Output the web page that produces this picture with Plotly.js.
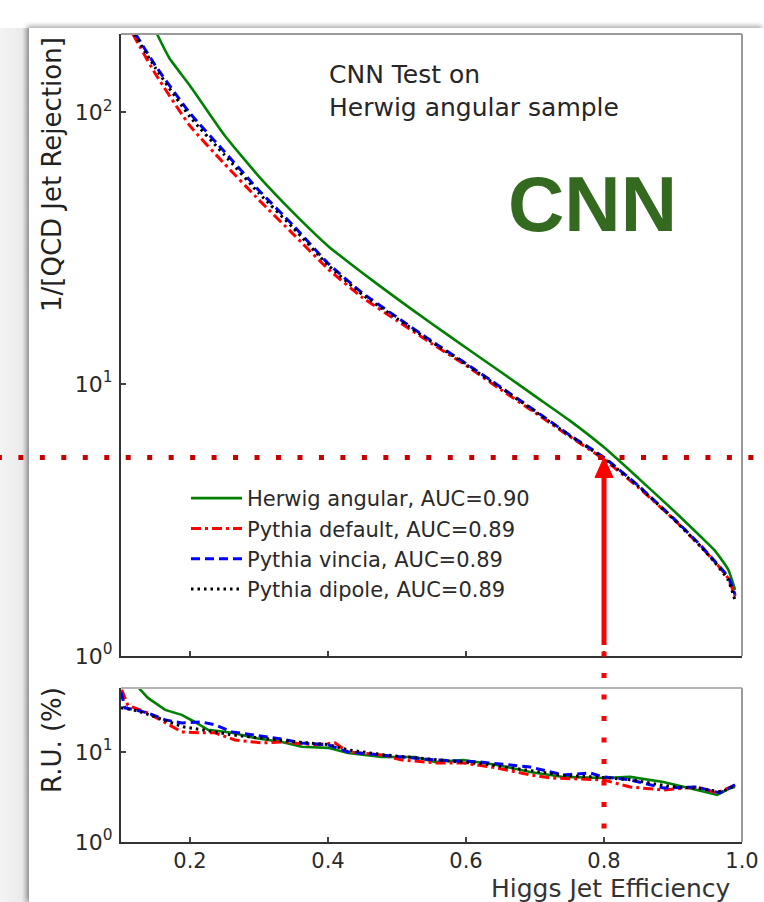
<!DOCTYPE html>
<html>
<head>
<meta charset="utf-8">
<script src="https://cdn.plot.ly/plotly-3.0.1.min.js"></script>
<style>
  html, body { margin: 0; padding: 0; background: #fff; width: 764px; height: 902px; overflow: hidden; }
  #strip { position: absolute; left: 0; top: 28px; width: 29px; height: 874px;
           background: linear-gradient(to right, #f3f3f3 0%, #ebebeb 75%, #c9c9c9 100%); }
  #card  { position: absolute; left: 29px; top: 28px; width: 735px; height: 874px; background: #fff;
           box-shadow: -2px -2px 5px rgba(0,0,0,0.35); }
  #chart { position: absolute; left: 0; top: 0; width: 764px; height: 902px; }
</style>
</head>
<body>
<div id="strip"></div>
<div id="card"></div>
<div id="chart"></div>
<script>
// ---------- ROC curves: 1/(QCD jet rejection) vs Higgs jet efficiency ----------
const effHerwig   = [0.152, 0.17, 0.2, 0.25, 0.3, 0.35, 0.4, 0.45, 0.5, 0.55, 0.6, 0.65, 0.7, 0.75, 0.8, 0.85, 0.9, 0.94, 0.96, 0.98, 0.99];
const rejHerwig   = [194, 158, 125, 82.2, 57.9, 42.6, 32.2, 25.6, 20.6, 16.7, 13.6, 11.1, 9.03, 7.35, 5.85, 4.50, 3.44, 2.75, 2.45, 2.08, 1.75];

const effDefault  = [0.117, 0.15, 0.2, 0.25, 0.3, 0.35, 0.4, 0.45, 0.5, 0.55, 0.6, 0.65, 0.7, 0.75, 0.8, 0.85, 0.9, 0.94, 0.96, 0.98, 0.99];
const rejDefault  = [194, 138, 89.0, 64.5, 47.5, 35.5, 26.5, 20.8, 17.1, 14.1, 11.7, 9.55, 7.85, 6.42, 5.28, 4.16, 3.20, 2.53, 2.23, 1.93, 1.66];

const effVincia   = [0.121, 0.15, 0.2, 0.25, 0.3, 0.35, 0.4, 0.45, 0.5, 0.55, 0.6, 0.65, 0.7, 0.75, 0.8, 0.85, 0.9, 0.94, 0.96, 0.98, 0.99];
const rejVincia   = [194, 148, 99.0, 71.5, 51.5, 38.2, 27.8, 21.6, 17.6, 14.4, 11.9, 9.75, 7.98, 6.50, 5.37, 4.22, 3.22, 2.55, 2.24, 1.95, 1.68];

const effDipole   = [0.119, 0.15, 0.2, 0.25, 0.3, 0.35, 0.4, 0.45, 0.5, 0.55, 0.6, 0.65, 0.7, 0.75, 0.8, 0.85, 0.9, 0.94, 0.96, 0.98, 0.99];
const rejDipole   = [194, 145, 96.0, 69.5, 50.3, 37.4, 27.4, 21.3, 17.4, 14.3, 11.8, 9.70, 7.93, 6.47, 5.33, 4.20, 3.20, 2.53, 2.22, 1.90, 1.60];

// ---------- relative uncertainty (%) ----------
const ruEffHerwig  = [0.125, 0.139, 0.164, 0.188, 0.207, 0.226, 0.261, 0.294, 0.333, 0.362, 0.4, 0.429, 0.478, 0.526, 0.555, 0.596, 0.645, 0.693, 0.741, 0.799, 0.838, 0.886, 0.935, 0.964, 0.983, 0.99];
const ruHerwig     = [52, 39.8, 29.3, 25.8, 21.5, 17.6, 16.3, 14.3, 12.9, 11.4, 11.1, 9.75, 8.8, 8.8, 7.74, 8.15, 7.17, 6.0, 5.28, 5.14, 5.28, 4.64, 3.78, 3.33, 3.98, 4.08];

const ruEffDefault = [0.101, 0.11, 0.139, 0.164, 0.188, 0.217, 0.236, 0.265, 0.304, 0.333, 0.381, 0.41, 0.429, 0.478, 0.507, 0.555, 0.596, 0.645, 0.693, 0.722, 0.799, 0.838, 0.886, 0.935, 0.964, 0.99];
const ruDefault    = [49, 33, 27.1, 21, 16.7, 16.3, 16.3, 13.6, 12.6, 12.9, 12.0, 12.6, 10.0, 9.26, 8.15, 7.55, 7.55, 6.64, 5.55, 5.14, 4.89, 4.08, 3.78, 4.08, 3.5, 4.3];

const ruEffVincia  = [0.1, 0.106, 0.12, 0.139, 0.164, 0.188, 0.217, 0.236, 0.261, 0.294, 0.333, 0.362, 0.4, 0.429, 0.478, 0.526, 0.555, 0.62, 0.693, 0.741, 0.78, 0.799, 0.838, 0.886, 0.935, 0.968, 0.99];
const ruVincia     = [46, 30.8, 29.3, 27.1, 22.7, 21.0, 21.5, 20.0, 16.7, 15.4, 13.9, 12.6, 12.0, 10.0, 9.26, 8.58, 8.15, 7.74, 6.81, 5.55, 5.84, 5.28, 4.89, 3.98, 4.08, 3.5, 4.3];

const ruEffDipole  = [0.1, 0.12, 0.14, 0.165, 0.19, 0.22, 0.26, 0.3, 0.35, 0.4, 0.43, 0.48, 0.53, 0.58, 0.63, 0.69, 0.74, 0.8, 0.84, 0.89, 0.94, 0.97, 0.99];
const ruDipole     = [31, 29, 26, 22, 19, 17.5, 15.5, 14.3, 13.0, 12.1, 10.5, 9.3, 8.5, 7.9, 7.3, 6.3, 5.5, 5.2, 4.9, 4.2, 3.9, 3.6, 4.2];

const seriesNames = [
  'Herwig angular, AUC=0.90',
  'Pythia default, AUC=0.89',
  'Pythia vincia, AUC=0.89',
  'Pythia dipole, AUC=0.89'
];
const xTickVals = [0.2, 0.4, 0.6, 0.8, 1.0];
const xTickText = ['0.2', '0.4', '0.6', '0.8', '1.0'];

// working point marked on the plot
const wpEff = 0.8;
const wpRej = rejVincia[effVincia.indexOf(wpEff)];

// ---------- page geometry ----------
const W = 764, H = 902;
const px = p => p / W;             // horizontal pixel -> paper
const py = p => 1 - p / H;         // vertical pixel -> paper
const xDom = [px(121), px(742)];
const xRange = [0.1, 1.0];
const mainDom = [py(656), py(34)];
const mainRange = [0, 2.287];
const ruDom = [py(842), py(688)];
const ruRange = [0, 1.71];

const xToPaper = x => xDom[0] + (x - xRange[0]) / (xRange[1] - xRange[0]) * (xDom[1] - xDom[0]);
const yMainToPaper = v => mainDom[0] + (Math.log10(v) - mainRange[0]) / (mainRange[1] - mainRange[0]) * (mainDom[1] - mainDom[0]);

const styles = [
  {color: '#008000', width: 2.6, dash: 'solid'},
  {color: '#ff0000', width: 3, dash: '10px,4px,3px,4px'},
  {color: '#0000ff', width: 3, dash: '9px,5px'},
  {color: '#000000', width: 3, dash: '2.5px,4px'}
];

const mainSets = [[effHerwig, rejHerwig], [effDefault, rejDefault], [effVincia, rejVincia], [effDipole, rejDipole]];
const ruSets = [[ruEffHerwig, ruHerwig], [ruEffDefault, ruDefault], [ruEffVincia, ruVincia], [ruEffDipole, ruDipole]];

const traces = [];
mainSets.forEach((s, i) => {
  traces.push({
    x: s[0], y: s[1], type: 'scatter', mode: 'lines', name: seriesNames[i],
    xaxis: 'x', yaxis: 'y', legendgroup: 'g' + i,
    line: {color: styles[i].color, width: styles[i].width, dash: styles[i].dash, shape: 'spline', smoothing: 0.5}
  });
});
ruSets.forEach((s, i) => {
  traces.push({
    x: s[0], y: s[1], type: 'scatter', mode: 'lines', name: seriesNames[i],
    xaxis: 'x2', yaxis: 'y2', showlegend: false, legendgroup: 'g' + i,
    line: {color: styles[i].color, width: styles[i].width, dash: styles[i].dash}
  });
});

const sup = n => '10<sup>' + n + '</sup>';
const tickFont = {family: 'DejaVu Sans', size: 22, color: '#2a2a2a'};
const axisCommon = {
  showgrid: false, zeroline: false, showline: true, linecolor: '#333', linewidth: 2,
  ticks: 'inside', ticklen: 5, tickwidth: 1.5, tickcolor: '#444', tickfont: tickFont
};

const grey = {color: '#9a9a9a', width: 2};
const shapes = [
  // light frame edges (top and right) of both panels
  {type: 'line', xref: 'paper', yref: 'paper', x0: xDom[0], x1: xDom[1], y0: mainDom[1], y1: mainDom[1], line: grey},
  {type: 'line', xref: 'paper', yref: 'paper', x0: xDom[1], x1: xDom[1], y0: mainDom[0], y1: mainDom[1], line: grey},
  {type: 'line', xref: 'paper', yref: 'paper', x0: xDom[0], x1: xDom[1], y0: ruDom[1], y1: ruDom[1], line: {color: '#b5b5b5', width: 2}},
  {type: 'line', xref: 'paper', yref: 'paper', x0: xDom[1], x1: xDom[1], y0: ruDom[0], y1: ruDom[1], line: grey},
  // horizontal guide at the working-point rejection
  {type: 'line', xref: 'paper', yref: 'paper', x0: px(-3.1), x1: px(770), y0: yMainToPaper(wpRej), y1: yMainToPaper(wpRej),
   line: {color: '#c80000', width: 5, dash: '5px,16.47px'}},
  // vertical guide below the arrow
  {type: 'line', xref: 'paper', yref: 'paper', x0: xToPaper(wpEff), x1: xToPaper(wpEff), y0: py(651.5), y1: py(830),
   line: {color: '#ff0000', width: 5, dash: '5px,16.5px'}},
  // arrow shaft
  {type: 'line', xref: 'paper', yref: 'paper', x0: xToPaper(wpEff), x1: xToPaper(wpEff), y0: py(645), y1: py((1 - yMainToPaper(wpRej)) * H + 19),
   line: {color: '#ff0000', width: 5}}
];
// arrow head
(function () {
  const tipY = (1 - yMainToPaper(wpRej)) * H;
  const cx = xToPaper(wpEff) * W;
  const pts = [[cx, tipY], [cx - 9, tipY + 20], [cx + 9, tipY + 20]];
  const path = 'M' + pts.map(p => px(p[0]) + ',' + py(p[1])).join(' L') + ' Z';
  shapes.push({type: 'path', xref: 'paper', yref: 'paper', path: path, fillcolor: '#ff0000', line: {color: '#ff0000', width: 1}});
})();

const annotations = [
  {text: 'CNN Test on<br>Herwig angular sample', xref: 'paper', yref: 'paper', x: px(327), y: py(90.5),
   xanchor: 'left', yanchor: 'middle', align: 'left', showarrow: false,
   font: {family: 'DejaVu Sans', size: 25, color: '#262626'}},
  {text: '<b>CNN</b>', xref: 'paper', yref: 'paper', x: px(592), y: py(204), xanchor: 'center', yanchor: 'middle',
   showarrow: false, font: {family: 'Liberation Sans, Arial', size: 78, color: '#336a1f'}},
  {text: '1/[QCD Jet Rejection]', xref: 'paper', yref: 'paper', x: px(52), y: py(175), textangle: -90,
   xanchor: 'center', yanchor: 'middle', showarrow: false, font: {family: 'DejaVu Sans', size: 26, color: '#222'}},
  {text: 'R.U. (%)', xref: 'paper', yref: 'paper', x: px(52), y: py(740), textangle: -90,
   xanchor: 'center', yanchor: 'middle', showarrow: false, font: {family: 'DejaVu Sans', size: 26, color: '#222'}},
  {text: 'Higgs Jet Efficiency', xref: 'paper', yref: 'paper', x: px(733), y: py(888),
   xanchor: 'right', yanchor: 'middle', showarrow: false, font: {family: 'DejaVu Sans', size: 25, color: '#333'}}
];

const layout = {
  width: W, height: H, margin: {l: 0, r: 0, t: 0, b: 0},
  paper_bgcolor: 'rgba(0,0,0,0)', plot_bgcolor: '#ffffff',
  font: {family: 'DejaVu Sans', color: '#222'},
  xaxis: Object.assign({}, axisCommon, {domain: xDom, range: xRange, anchor: 'y', tickvals: xTickVals, showticklabels: false}),
  yaxis: Object.assign({}, axisCommon, {domain: mainDom, type: 'log', range: mainRange, anchor: 'x',
    tickvals: [1, 10, 100], ticktext: [sup(0), sup(1), sup(2)], ticklabelstandoff: 2}),
  xaxis2: Object.assign({}, axisCommon, {domain: xDom, range: xRange, anchor: 'y2', tickvals: xTickVals, ticktext: xTickText,
    tickfont: {family: 'DejaVu Sans', size: 21, color: '#2a2a2a'}, ticklabelstandoff: -1}),
  yaxis2: Object.assign({}, axisCommon, {domain: ruDom, type: 'log', range: ruRange, anchor: 'x2',
    tickvals: [1, 10], ticktext: [sup(0), sup(1)], ticklabelstandoff: 2}),
  showlegend: true,
  legend: {x: px(186), y: py(478), xanchor: 'left', yanchor: 'top', bgcolor: 'rgba(0,0,0,0)', borderwidth: 0,
    font: {family: 'DejaVu Sans', size: 21, color: '#2a2a2a'}, itemwidth: 51, tracegroupgap: 2, traceorder: 'normal'},
  shapes: shapes,
  annotations: annotations
};

Plotly.newPlot('chart', traces, layout, {displayModeBar: false, staticPlot: true});
</script>
</body>
</html>
